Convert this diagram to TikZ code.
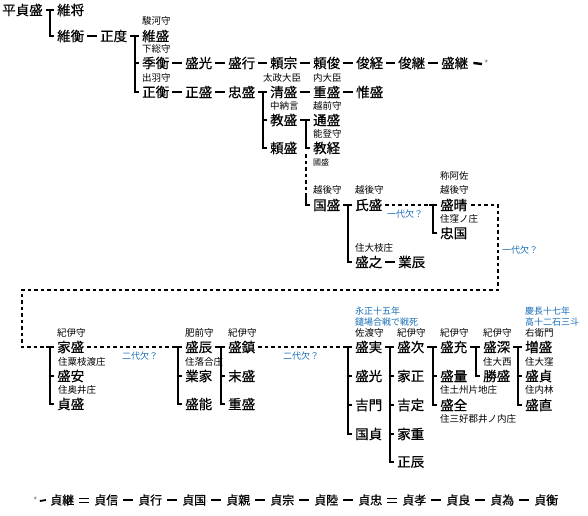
\documentclass[tikz,border=0pt]{standalone}
\usepackage{fontspec}
\setmainfont{Noto Sans CJK JP}
\newfontfamily\nmfont{Noto Sans CJK JP}[FakeBold=0.6]
\definecolor{bl}{RGB}{25,110,185}
\newcommand\lnk[2]{\draw[ln] ([xshift=3pt]#1.east) -- ([xshift=-3pt]#2.west);}
\newcommand\brak[3]{\lnk{#1}{#2}\draw[ln] ([xshift=-7pt]#2.west) |- ([xshift=-3pt]#3.west);}
\newcommand\mytick[1]{\draw[ln] ([xshift=-7pt]#1.west) -- ([xshift=-3pt]#1.west);}
\newcommand\dlnk[2]{\draw[dl] ([xshift=3pt]#1.east) -- ([xshift=-11pt]#2.west);\draw[ln] ([xshift=-11pt]#2.west) -- ([xshift=-3pt]#2.west);}
\begin{document}
\begin{tikzpicture}[x=1pt,y=-1pt,
 nm/.style={anchor=west, inner sep=0pt, font=\nmfont\fontsize{13.5}{14}\selectfont},
 lb/.style={anchor=west, inner sep=0pt, font=\fontsize{9.5}{10}\selectfont},
 bq/.style={anchor=west, inner sep=0pt, text=bl, font=\fontsize{9}{10}\selectfont},
 bt/.style={anchor=west, inner sep=0pt, font=\nmfont\fontsize{12}{13}\selectfont},
 ln/.style={line width=2.4pt},
 dl/.style={line width=2.2pt, dash pattern=on 3.5pt off 3pt},
 tk/.style={line width=1.8pt}]
\useasboundingbox (0,0) rectangle (588,515);
% ---- upper part ----
\node[nm] (n1) at (2,10) {平貞盛};
\node[nm] (n2) at (57,10) {維将};
\node[nm] (n3) at (57,36) {維衡};
\node[nm] (n4) at (100,36) {正度};
\node[nm] (n5) at (142,36) {維盛};
\node[lb] (l5) at (142,21) {駿河守};
\node[nm] (n6) at (142,63) {季衡};
\node[lb] (l6) at (142,49) {下総守};
\node[nm] (n7) at (185,63) {盛光};
\node[nm] (n8) at (228,63) {盛行};
\node[nm] (n9) at (270,63) {頼宗};
\node[nm] (n10) at (313,63) {頼俊};
\node[nm] (n11) at (356,63) {俊経};
\node[nm] (n12) at (398,63) {俊継};
\node[nm] (n13) at (441,63) {盛継};
\node[lb, text=gray] (st) at (484,64) {*};
\node[nm] (n14) at (142,92) {正衡};
\node[lb] (l14) at (142,78) {出羽守};
\node[nm] (n15) at (185,92) {正盛};
\node[nm] (n16) at (228,92) {忠盛};
\node[nm] (n17) at (270,92) {清盛};
\node[lb] (l17) at (263,78) {太政大臣};
\node[nm] (n18) at (313,92) {重盛};
\node[lb] (l18) at (313,78) {内大臣};
\node[nm] (n19) at (356,92) {惟盛};
\node[nm] (n20) at (270,120) {教盛};
\node[lb] (l20) at (270,106) {中納言};
\node[nm] (n21) at (270,148) {頼盛};
\node[nm] (n22) at (313,120) {通盛};
\node[lb] (l22) at (313,106) {越前守};
\node[nm] (n23) at (313,148) {教経};
\node[lb] (l23) at (313,134) {能登守};
\node[lb, font=\fontsize{8}{9}\selectfont] (l23b) at (313,162) {國盛};
\node[nm] (n24) at (313,205) {国盛};
\node[lb] (l24) at (313,190) {越後守};
\node[nm] (n25) at (355,205) {氏盛};
\node[lb] (l25) at (355,190) {越後守};
\node[nm] (n26) at (355,262) {盛之};
\node[lb] (l26) at (355,248) {住大枝庄};
\node[nm] (n27) at (398,262) {業辰};
\node[nm] (n28) at (440,205) {盛晴};
\node[lb] (l28a) at (440,176) {称阿佐};
\node[lb] (l28b) at (440,190) {越後守};
\node[nm] (n29) at (440,233) {忠国};
\node[lb] (l29) at (440,219) {住窪ノ庄};
\node[bq] (q1) at (387,214) {一代欠？};
\node[bq] (q2) at (502,250) {一代欠？};
% ---- lower part ----
\node[nm] (n30) at (57,347) {家盛};
\node[lb] (l30) at (57,333) {紀伊守};
\node[nm] (n31) at (57,376) {盛安};
\node[lb] (l31) at (58,362) {住粟枝渡庄};
\node[nm] (n32) at (57,404) {貞盛};
\node[lb] (l32) at (58,390) {住奥井庄};
\node[bq] (q3) at (122,356) {二代欠？};
\node[nm] (n33) at (185,347) {盛辰};
\node[lb] (l33) at (185,333) {肥前守};
\node[nm] (n34) at (185,376) {業家};
\node[lb] (l34) at (185,362) {住落合庄};
\node[nm] (n35) at (185,404) {盛能};
\node[nm] (n36) at (228,347) {盛鎮};
\node[lb] (l36) at (228,333) {紀伊守};
\node[nm] (n37) at (228,376) {末盛};
\node[nm] (n38) at (228,404) {重盛};
\node[bq] (q4) at (283,356) {二代欠？};
\node[nm] (n39) at (355,347) {盛実};
\node[lb] (l39) at (355,333) {佐渡守};
\node[bq] (q5) at (355,311) {永正十五年};
\node[bq] (q6) at (355,322) {鑓場合戦で戦死};
\node[nm] (n40) at (355,376) {盛光};
\node[nm] (n41) at (355,405) {吉門};
\node[nm] (n42) at (355,434) {国貞};
\node[nm] (n43) at (397,347) {盛次};
\node[lb] (l43) at (397,333) {紀伊守};
\node[nm] (n44) at (397,376) {家正};
\node[nm] (n45) at (397,405) {吉定};
\node[nm] (n46) at (397,434) {家重};
\node[nm] (n47) at (397,462) {正辰};
\node[nm] (n48) at (440,347) {盛充};
\node[lb] (l48) at (440,333) {紀伊守};
\node[nm] (n49) at (440,376) {盛量};
\node[lb] (l49) at (440,390) {住土州片地庄};
\node[nm] (n50) at (440,405) {盛全};
\node[lb] (l50) at (440,419) {住三好郡井ノ内庄};
\node[nm] (n51) at (483,347) {盛深};
\node[lb] (l51) at (483,333) {紀伊守};
\node[nm] (n52) at (483,376) {勝盛};
\node[lb] (l52) at (483,362) {住大西};
\node[nm] (n53) at (525,347) {増盛};
\node[lb] (l53) at (525,333) {右衛門};
\node[bq] (q7) at (525,311) {慶長十七年};
\node[bq] (q8) at (525,322) {高十二石三斗};
\node[nm] (n54) at (525,376) {盛貞};
\node[lb] (l54) at (525,362) {住大窪};
\node[nm] (n55) at (525,405) {盛直};
\node[lb] (l55) at (525,390) {住内林};
% ---- connectors upper ----
\brak{n1}{n2}{n3}
\lnk{n3}{n4}
\brak{n4}{n5}{n14}\mytick{n6}
\lnk{n6}{n7}\lnk{n7}{n8}\lnk{n8}{n9}\lnk{n9}{n10}\lnk{n10}{n11}\lnk{n11}{n12}\lnk{n12}{n13}
\draw[ln] ([xshift=5pt]n13.east) -- ([xshift=-2pt]st.west);
\lnk{n14}{n15}\lnk{n15}{n16}
\brak{n16}{n17}{n21}\mytick{n20}
\lnk{n17}{n18}\lnk{n18}{n19}
\brak{n20}{n22}{n23}
\draw[dl] ([xshift=-7pt,yshift=-6pt]n23.west) -- ([xshift=-7pt,yshift=9pt]n24.west);
\draw[ln] ([xshift=-7pt,yshift=9pt]n24.west) |- ([xshift=-3pt]n24.west);
\brak{n24}{n25}{n26}
\lnk{n26}{n27}
\dlnk{n25}{n28}
\draw[ln] ([xshift=-7pt]n28.west) |- ([xshift=-3pt]n29.west);
\coordinate (ra) at (498,290);
\coordinate (la) at (22,290);
\draw[dl] ([xshift=4pt]n28.east) -| (ra) -- (la) |- ([xshift=-11pt]n30.west);
% ---- connectors lower ----
\draw[ln] ([xshift=-11pt]n30.west) -- ([xshift=-3pt]n30.west);
\draw[ln] ([xshift=-7pt]n30.west) |- ([xshift=-3pt]n32.west);\mytick{n31}
\dlnk{n30}{n33}
\draw[ln] ([xshift=-7pt]n33.west) |- ([xshift=-3pt]n35.west);\mytick{n34}
\brak{n33}{n36}{n38}\mytick{n37}
\dlnk{n36}{n39}
\draw[ln] ([xshift=-7pt]n39.west) |- ([xshift=-3pt]n42.west);\mytick{n40}\mytick{n41}
\brak{n39}{n43}{n47}\mytick{n44}\mytick{n45}\mytick{n46}
\brak{n43}{n48}{n50}\mytick{n49}
\brak{n48}{n51}{n52}
\brak{n51}{n53}{n55}\mytick{n54}
% ---- bottom row ----
\node[lb, text=gray] (bs) at (33,501) {*};
\foreach \t [count=\i from 0] in {貞継,貞信,貞行,貞国,貞親,貞宗,貞陸,貞忠,貞孝,貞良,貞為,貞衡}{\node[bt] (b\i) at ({50+44*\i},500) {\t};}
\draw[tk] ([xshift=2pt]bs.east) -- ([xshift=-4pt]b0.west);
\foreach \a/\b in {1/2,2/3,3/4,4/5,5/6,6/7,8/9,9/10,10/11}{\draw[tk] ([xshift=5pt]b\a.east) -- ([xshift=-5pt]b\b.west);}
\foreach \a/\b in {0/1,7/8}{\draw[line width=0.8pt] ([xshift=5pt,yshift=2pt]b\a.east) -- ([xshift=-5pt,yshift=2pt]b\b.west);\draw[line width=0.8pt] ([xshift=5pt,yshift=-2pt]b\a.east) -- ([xshift=-5pt,yshift=-2pt]b\b.west);}
\end{tikzpicture}
\end{document}
